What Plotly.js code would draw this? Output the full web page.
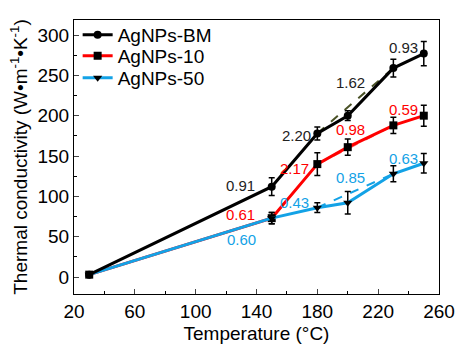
<!DOCTYPE html>
<html>
<head>
<meta charset="utf-8">
<script src="https://cdn.plot.ly/plotly-3.0.1.min.js"></script>
<style>html,body{margin:0;padding:0;background:#fff;}#chart{width:456px;height:344px;}</style>
</head>
<body>
<div id="chart"></div>
<script>
// Data
const temperature = [30, 150, 180, 200, 230, 250];
const bmValues = [3, 112, 178, 200, 259, 277];
const bmErrors = [0, 11, 8, 6, 11, 15];
const ag10Values = [3, 73, 140, 161, 188, 200];
const ag10Errors = [0, 7, 14, 10, 10, 13];
const ag50Values = [3, 73, 86, 92, 128, 141];
const ag50Errors = [0, 7, 6, 14, 10, 12];
const seriesNames = ["AgNPs-BM", "AgNPs-10", "AgNPs-50"];
// dashed guide segments (180 -> 230)
const dashX = [180, 230];
const bmDash = [178, 259];
const ag10Dash = [140, 188];
const ag50Dash = [86, 128];
// slope labels
const bmLabels = {x: [129.5, 166, 202, 236.5], y: [114, 176, 241, 284], t: ["0.91", "2.20", "1.62", "0.93"]};
const ag10Labels = {x: [129.5, 165, 202, 236.5], y: [77, 135, 183, 208], t: ["0.61", "2.17", "0.98", "0.59"]};
const ag50Labels = {x: [130, 165, 202, 236.5], y: [46, 93, 123, 147], t: ["0.60", "0.43", "0.85", "0.63"]};

const BLUE = "#13a2e6";
const RED = "#ff0000";
const BLACK = "#000000";

function dashTrace(y, color) {
  return {x: dashX, y: y, mode: "lines", showlegend: false, hoverinfo: "skip",
    line: {color: color, width: 2, dash: "dash"}};
}
function mainTrace(name, y, err, color, symbol, legendId) {
  return {x: temperature, y: y, name: name, mode: "lines+markers", legend: legendId,
    line: {color: color, width: 3},
    marker: {color: BLACK, symbol: symbol, size: 8},
    error_y: {type: "data", array: err, visible: true, color: BLACK, thickness: 1.5, width: 3}};
}
const traces = [
  dashTrace(ag10Dash, "#ff6a6a"),
  dashTrace(ag50Dash, BLUE),
  dashTrace(bmDash, "#4a5226"),
  mainTrace(seriesNames[1], ag10Values, ag10Errors, RED, "square", "legend2"),
  mainTrace(seriesNames[2], ag50Values, ag50Errors, BLUE, "triangle-down", "legend3"),
  mainTrace(seriesNames[0], bmValues, bmErrors, BLACK, "circle", "legend")
];

const annotations = [];
function addLabels(lab, color) {
  for (let i = 0; i < lab.t.length; i++) {
    annotations.push({x: lab.x[i], y: lab.y[i], text: lab.t[i], showarrow: false,
      font: {size: 15, color: color, family: "Liberation Sans, Arial, sans-serif"}});
  }
}
addLabels(bmLabels, "#222222");
addLabels(ag10Labels, RED);
addLabels(ag50Labels, BLUE);

function legendBox(y) {
  return {x: 0.01, y: y, xanchor: "left", yanchor: "top",
    bgcolor: "rgba(0,0,0,0)", font: {size: 19}};
}

const layout = {
  width: 456, height: 344,
  margin: {l: 74, r: 17, t: 20, b: 50},
  paper_bgcolor: "#fff", plot_bgcolor: "#fff",
  font: {family: "Liberation Sans, Arial, sans-serif", color: "#000", size: 19},
  showlegend: true,
  legend: legendBox(1.0146),
  legend2: legendBox(0.938),
  legend3: legendBox(0.8577),
  xaxis: {range: [20, 260], tick0: 20, dtick: 40, ticks: "inside", ticklen: 5, tickwidth: 1,
    showline: true, linecolor: "#000", linewidth: 1, mirror: true, showgrid: false, zeroline: false,
    minor: {dtick: 20, ticks: "inside", ticklen: 3, tickcolor: "#000"},
    title: {text: "Temperature (°C)", font: {size: 19}, standoff: 6}},
  yaxis: {range: [-21, 318.6], tick0: 0, dtick: 50, ticks: "inside", ticklen: 5, tickwidth: 1,
    showline: true, linecolor: "#000", linewidth: 1, mirror: true, showgrid: false, zeroline: false,
    minor: {dtick: 25, ticks: "inside", ticklen: 3, tickcolor: "#000"},
    title: {text: "Thermal conductivity (W•m<sup>-1</sup>•K<sup>-1</sup>)", font: {size: 19}, standoff: 4}},
  annotations: annotations
};
Plotly.newPlot("chart", traces, layout, {displayModeBar: false, staticPlot: true});
</script>
</body>
</html>
